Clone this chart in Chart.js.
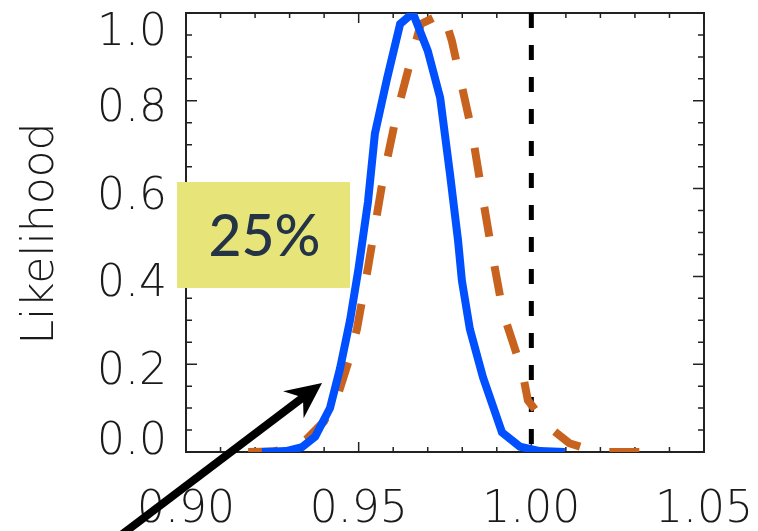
<!DOCTYPE html>
<html>
<head>
<meta charset="utf-8">
<script src="https://cdn.jsdelivr.net/npm/chart.js@4.4.1/dist/chart.umd.min.js"></script>
<style>
  html,body{margin:0;padding:0;background:#fff;}
  #wrap{width:758px;height:531px;position:relative;}
</style>
</head>
<body>
<div id="wrap"><canvas id="c"></canvas></div>
<script>
// blue solid curve
const blueX = [0.922, 0.929, 0.9336, 0.9374, 0.9417, 0.9446, 0.9475, 0.950, 0.9527, 0.9547, 0.9582, 0.962, 0.9657,
               0.970, 0.9736, 0.9765, 0.9788, 0.9799, 0.9822, 0.986, 0.9915, 0.9967, 1.0025, 1.0097];
const blueY = [0, 0.002, 0.011, 0.035, 0.10, 0.19, 0.30, 0.42, 0.57, 0.725, 0.85, 0.975, 1.0,
               0.914, 0.807, 0.63, 0.48, 0.39, 0.28, 0.17, 0.045, 0.012, 0.002, 0];
// orange dashed curve
const orangeX = [0.918, 0.925, 0.931, 0.935, 0.940, 0.944, 0.947, 0.9495, 0.9527, 0.957, 0.961, 0.965, 0.968, 0.9745,
                 0.977, 0.9828, 0.9857, 0.9886, 0.9918, 0.9973, 0.999, 1.0045, 1.011, 1.019, 1.037];
const orangeY = [0, 0.001, 0.01, 0.03, 0.07, 0.13, 0.205, 0.28, 0.42, 0.62, 0.77, 0.89, 0.975, 1.0,
                 0.936, 0.73, 0.59, 0.455, 0.318, 0.186, 0.118, 0.061, 0.02, 0, 0];
// reference line at 1.00
const refX = [1.0, 1.0];
const refY = [1.0, 0.0];

const xTicks = [0.90, 0.95, 1.00, 1.05];
const xTickLabels = ['0.90', '0.95', '1.00', '1.05'];
const yTicks = [0.0, 0.2, 0.4, 0.6, 0.8, 1.0];
const yTickLabels = ['0.0', '0.2', '0.4', '0.6', '0.8', '1.0'];
const yTitle = 'Likelihood';

// annotation, in data units
const boxText = '25%';
const boxX = [0.8974, 0.9475];
const boxY = [0.3736, 0.615];
const arrowFrom = [0.8751, -0.2255];
const arrowTo = [0.9394, 0.1572];

const pts = (xs, ys) => xs.map((v,i)=>({x:v, y:ys[i]}));

const LABEL_FONT = '200 44px "DejaVu Sans", "Open Sans", sans-serif';

const framePlugin = {
  id:'frame',
  beforeDatasetsDraw(chart){
    const {ctx, chartArea:a, scales:{x, y}} = chart;
    ctx.save();
    ctx.strokeStyle = '#222';
    ctx.lineWidth = 2;
    ctx.strokeRect(a.left, a.top, a.right - a.left, a.bottom - a.top);
    ctx.lineWidth = 1.5;
    ctx.beginPath();
    // x ticks every 0.01, major every 0.05 (inward, top and bottom)
    for(let i=0;i<=15;i++){
      const px = x.getPixelForValue(0.90 + i*0.01);
      const len = i%5===0 ? 10 : 5;
      ctx.moveTo(px, a.bottom); ctx.lineTo(px, a.bottom - len);
      ctx.moveTo(px, a.top); ctx.lineTo(px, a.top + len);
    }
    // y ticks every 0.05, major every 0.2 (inward, left and right)
    for(let i=0;i<=20;i++){
      const py = y.getPixelForValue(i*0.05);
      const len = i%4===0 ? 11 : 6;
      ctx.moveTo(a.left, py); ctx.lineTo(a.left + len, py);
      ctx.moveTo(a.right, py); ctx.lineTo(a.right - len, py);
    }
    ctx.stroke();
    ctx.restore();
  },
  afterDraw(chart){
    const {ctx, chartArea:a, scales:{x, y}} = chart;
    ctx.save();
    ctx.fillStyle = '#1a1a1a';
    ctx.font = LABEL_FONT;
    // x labels
    ctx.textAlign = 'center';
    ctx.textBaseline = 'alphabetic';
    xTicks.forEach((v,i)=>{
      ctx.fillText(xTickLabels[i], x.getPixelForValue(v), a.bottom + 70);
    });
    // y labels, end ones kept inside the frame height
    ctx.textAlign = 'right';
    yTicks.forEach((v,i)=>{
      let b = y.getPixelForValue(v) + 20;
      b = Math.max(a.top + 32, Math.min(a.bottom + 2, b));
      ctx.fillText(yTickLabels[i], a.left - 19, b);
    });
    // y title
    ctx.save();
    ctx.translate(53, (a.top + a.bottom)/2 + 1);
    ctx.rotate(-Math.PI/2);
    ctx.textAlign = 'center';
    ctx.fillText(yTitle, 0, 0);
    ctx.restore();

    // yellow label box
    const bx0 = x.getPixelForValue(boxX[0]), bx1 = x.getPixelForValue(boxX[1]);
    const by0 = y.getPixelForValue(boxY[1]), by1 = y.getPixelForValue(boxY[0]);
    ctx.fillStyle = '#e7e57a';
    ctx.fillRect(bx0, by0, bx1 - bx0, by1 - by0);
    ctx.fillStyle = '#243446';
    ctx.font = '500 57px Lato, "Open Sans", sans-serif';
    ctx.textAlign = 'center';
    ctx.textBaseline = 'middle';
    ctx.fillText(boxText, (bx0 + bx1)/2 + 1, (by0 + by1)/2 + 3);

    // arrow
    const tx = x.getPixelForValue(arrowTo[0]), ty = y.getPixelForValue(arrowTo[1]);
    const fx = x.getPixelForValue(arrowFrom[0]), fy = y.getPixelForValue(arrowFrom[1]);
    const ang = Math.atan2(ty - fy, tx - fx);
    const L = 36, W = 17, notch = 24;
    ctx.translate(tx, ty);
    ctx.rotate(ang);
    ctx.fillStyle = '#000';
    ctx.strokeStyle = '#000';
    ctx.lineWidth = 8;
    ctx.beginPath();
    ctx.moveTo(-notch + 2, 0);
    ctx.lineTo(-Math.hypot(tx - fx, ty - fy), 0);
    ctx.stroke();
    ctx.beginPath();
    ctx.moveTo(0, 0);
    ctx.lineTo(-L, -W);
    ctx.lineTo(-notch, 0);
    ctx.lineTo(-L, W);
    ctx.closePath();
    ctx.fill();
    ctx.restore();
  }
};

new Chart(document.getElementById('c'), {
  type:'line',
  data:{
    datasets:[
      {data:pts(blueX, blueY), borderColor:'#0050ff', borderWidth:8, pointRadius:0, tension:0, order:1},
      {data:pts(orangeX, orangeY), borderColor:'#c8631f', borderWidth:8, borderDash:[30,30], pointRadius:0, tension:0, order:2},
      {data:pts(refX, refY), borderColor:'#000', borderWidth:5, borderDash:[15,17], pointRadius:0, tension:0, order:3}
    ]
  },
  options:{
    responsive:true, maintainAspectRatio:false, animation:false,
    layout:{padding:{left:186, right:54, top:13, bottom:79}},
    scales:{
      x:{type:'linear', min:0.90, max:1.05, display:false},
      y:{min:0, max:1.0, display:false}
    },
    plugins:{legend:{display:false}, tooltip:{enabled:false}}
  },
  plugins:[framePlugin]
});
</script>
</body>
</html>
